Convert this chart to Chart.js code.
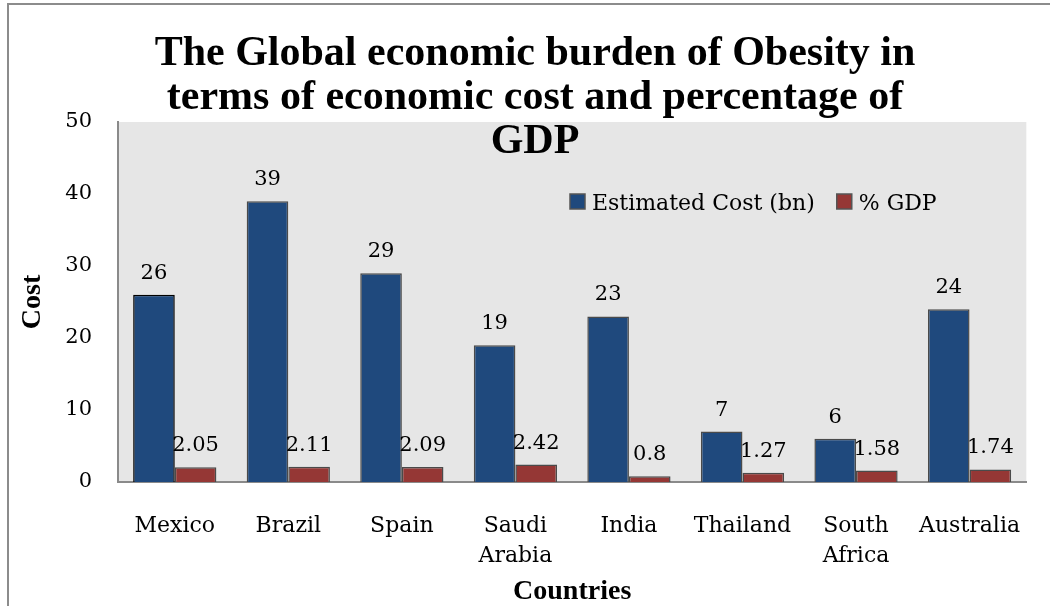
<!DOCTYPE html>
<html>
<head>
<meta charset="utf-8">
<script src="https://cdn.jsdelivr.net/npm/chart.js@4/dist/chart.umd.min.js"></script>
<style>
  html, body { margin: 0; padding: 0; background: #fff; overflow: hidden; }
  #frame {
    position: absolute; left: 7px; top: 3px;
    width: 1200px; height: 800px;
    border: 2px solid #8c8c8c;
  }
  #chart { position: absolute; left: 0; top: 0; }
</style>
</head>
<body>
<div id="frame"></div>
<canvas id="chart" width="1050" height="606"></canvas>
<script>
// data
const countries = ["Mexico", "Brazil", "Spain", ["Saudi", "Arabia"], "India", "Thailand", ["South", "Africa"], "Australia"];
const estimatedCost = [26, 39, 29, 19, 23, 7, 6, 24];
const gdpPercent = [2.05, 2.11, 2.09, 2.42, 0.8, 1.27, 1.58, 1.74];
const yTicks = [0, 10, 20, 30, 40, 50];
const titleLines = [
  "The Global economic burden of Obesity in",
  "terms of economic cost and percentage of",
  "GDP"
];

const serif = "'DejaVu Serif', serif";
const timesFont = "'Liberation Serif', 'Times New Roman', serif";

// grey plot background
const plotBg = {
  id: "plotBg",
  beforeDraw(chart) {
    const { ctx, chartArea: a } = chart;
    ctx.save();
    ctx.fillStyle = "#e6e6e6";
    ctx.fillRect(a.left, a.top, a.right - a.left, a.bottom - a.top);
    ctx.restore();
  }
};

// value labels above each bar
const barLabels = {
  id: "barLabels",
  afterDatasetsDraw(chart) {
    const ctx = chart.ctx;
    ctx.save();
    ctx.font = "21px " + serif;
    ctx.fillStyle = "#000";
    ctx.textAlign = "center";
    ctx.textBaseline = "alphabetic";
    chart.data.datasets.forEach((ds, i) => {
      chart.getDatasetMeta(i).data.forEach((bar, j) => {
        ctx.fillText(String(ds.data[j]), bar.x, bar.y - 16);
      });
    });
    ctx.restore();
  }
};

// legend drawn inside the plot area, like the original
const innerLegend = {
  id: "innerLegend",
  afterDraw(chart) {
    const ctx = chart.ctx;
    ctx.save();
    ctx.font = "22px " + serif;
    ctx.textBaseline = "alphabetic";
    let x = 570;
    chart.data.datasets.forEach((ds) => {
      ctx.fillStyle = ds.backgroundColor;
      ctx.fillRect(x, 194, 15, 15);
      ctx.strokeStyle = "#555";
      ctx.lineWidth = 1.5;
      ctx.strokeRect(x, 194, 15, 15);
      ctx.fillStyle = "#000";
      ctx.fillText(ds.label, x + 22, 210);
      x += 22 + ctx.measureText(ds.label).width + 22;
    });
    ctx.restore();
  }
};

// three-line bold title that overlaps the top of the plot
const bigTitle = {
  id: "bigTitle",
  afterDraw(chart) {
    const ctx = chart.ctx;
    ctx.save();
    ctx.font = "bold 42px " + timesFont;
    ctx.fillStyle = "#000";
    ctx.textAlign = "center";
    ctx.textBaseline = "alphabetic";
    titleLines.forEach((line, i) => {
      ctx.fillText(line, 535, 65 + i * 44);
    });
    ctx.restore();
  }
};

new Chart(document.getElementById("chart"), {
  type: "bar",
  data: {
    labels: countries,
    datasets: [
      {
        label: "Estimated Cost (bn)",
        data: estimatedCost,
        backgroundColor: "#1f497d",
        borderColor: ["#000", "#4a4a4a", "#4a4a4a", "#4a4a4a", "#4a4a4a", "#4a4a4a", "#4a4a4a", "#4a4a4a"],
        borderWidth: 1.5,
        categoryPercentage: 0.733,
        barPercentage: 1.0
      },
      {
        label: "% GDP",
        data: gdpPercent,
        backgroundColor: "#953735",
        borderColor: "#4a4a4a",
        borderWidth: 1.5,
        categoryPercentage: 0.733,
        barPercentage: 1.0
      }
    ]
  },
  options: {
    responsive: false,
    devicePixelRatio: 1,
    animation: false,
    layout: { padding: { left: 0, top: 122, right: 15, bottom: 0 } },
    plugins: {
      legend: { display: false },
      title: { display: false },
      tooltip: { enabled: false }
    },
    scales: {
      x: {
        grid: { display: false, drawTicks: false },
        border: { display: true, color: "#8a8a8a", width: 2 },
        ticks: {
          color: "#000",
          font: { family: serif, size: 22, lineHeight: "30px" },
          padding: 29,
          maxRotation: 0,
          autoSkip: false
        },
        title: {
          display: true,
          text: "Countries",
          color: "#000",
          font: { family: timesFont, size: 28, weight: "bold", lineHeight: 1 },
          padding: { top: 0, bottom: 0 }
        },
        afterFit(scale) { scale.height = 124; }
      },
      y: {
        min: 0,
        max: 50,
        grid: { display: false, drawTicks: false },
        border: { display: true, color: "#8a8a8a", width: 2 },
        afterBuildTicks(scale) { scale.ticks = yTicks.map(v => ({ value: v })); },
        ticks: {
          color: "#000",
          font: { family: serif, size: 21 },
          padding: 26
        },
        title: {
          display: true,
          text: "Cost",
          color: "#000",
          font: { family: timesFont, size: 28, weight: "bold", lineHeight: 1 },
          padding: { top: 19, bottom: 0 }
        },
        afterFit(scale) { scale.width = 118; }
      }
    }
  },
  plugins: [plotBg, barLabels, innerLegend, bigTitle]
});
</script>
</body>
</html>
